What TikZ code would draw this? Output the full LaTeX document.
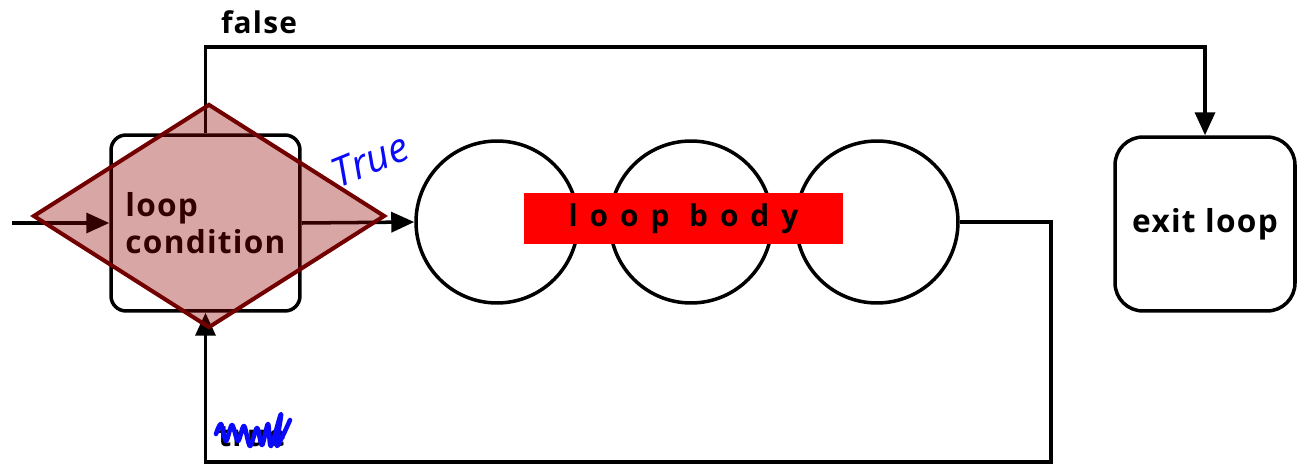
\documentclass[tikz,border=0pt]{standalone}
\usepackage{fontspec}
\usepackage{tikz}
\usetikzlibrary{shapes.geometric, arrows.meta, positioning}
\setmainfont{Open Sans}
\newfontfamily\spacedfont[LetterSpace=4]{Open Sans}
\newfontfamily\widefont[LetterSpace=40]{Open Sans}
\definecolor{condred}{RGB}{146,0,0}
\definecolor{condedge}{RGB}{115,0,0}
\definecolor{penblue}{RGB}{10,10,250}

\begin{document}
\begin{tikzpicture}[x=0.02cm, y=-0.02cm, line width=2pt, >={Triangle[length=0.46cm,width=0.4cm]}]
\tikzstyle{block} = [rectangle, draw=black, line width=2pt, text centered]
\tikzstyle{ring} = [circle, draw=black, line width=2pt, minimum size=3.24cm, inner sep=0pt]
\tikzstyle{arrow} = [->]
\tikzstyle{lbl} = [font=\spacedfont\bfseries\fontsize{17}{20}\selectfont]

\useasboundingbox (0,0) rectangle (1297,466);

% condition and exit boxes
\node (cond) [block, rounded corners=0.3cm, minimum width=3.78cm, minimum height=3.52cm,
  align=left, font=\spacedfont\bfseries\fontsize{18}{21}\selectfont] at (205.5,223) {loop\\condition};
\node (exit) [block, rounded corners=0.56cm, minimum width=3.6cm, minimum height=3.48cm,
  font=\spacedfont\bfseries\fontsize{18}{20}\selectfont] at (1205,224) {exit loop};

% loop body
\node (c1) [ring] at (497,222) {};
\node (c2) [ring] at (691,222) {};
\node (c3) [ring] at (877,222) {};
\node (body) [fill=red, minimum width=6.38cm, minimum height=1.02cm, inner sep=0pt,
  font=\widefont\bfseries\fontsize{17}{20}\selectfont] at (683.5,218.5) {loop body};

% connectors
\coordinate (start) at (12,223);
\coordinate (ftop) at (205.5,47);
\coordinate (bright) at (1051,222);
\coordinate (bbot) at (1051,462);

\draw [arrow] (start) -- (cond.west);
\draw [arrow] (cond.east) -- (c1.west);
\draw [arrow] (cond.north) -- (ftop) -| (exit.north);
\draw [arrow] (c3.east) -- (bright) -- (bbot) -| (cond.south);

\node (false) [lbl] at (259,22) {false};
\node (true) [lbl] at (252,437) {true};

% decision overlay
\node (dec) [diamond, draw=condedge, line width=2.3pt, fill=condred, fill opacity=0.35,
  minimum width=7.04cm, minimum height=4.48cm, inner sep=0pt] at (209,216) {};

% pen marks
\node (pen) [penblue, rotate=22, font=\itshape\fontsize{23}{24}\selectfont] at (370,160) {True};
\draw [penblue, line width=2.6pt, line join=round, line cap=round]
  plot [smooth, tension=0.5] coordinates {(216,434) (221,424) (226,441) (232,425) (238,441)
  (244,426) (250,446) (257,428) (262,445) (268,424) (271,446) (281,414) (277,446) (290,420)};
\end{tikzpicture}
\end{document}
